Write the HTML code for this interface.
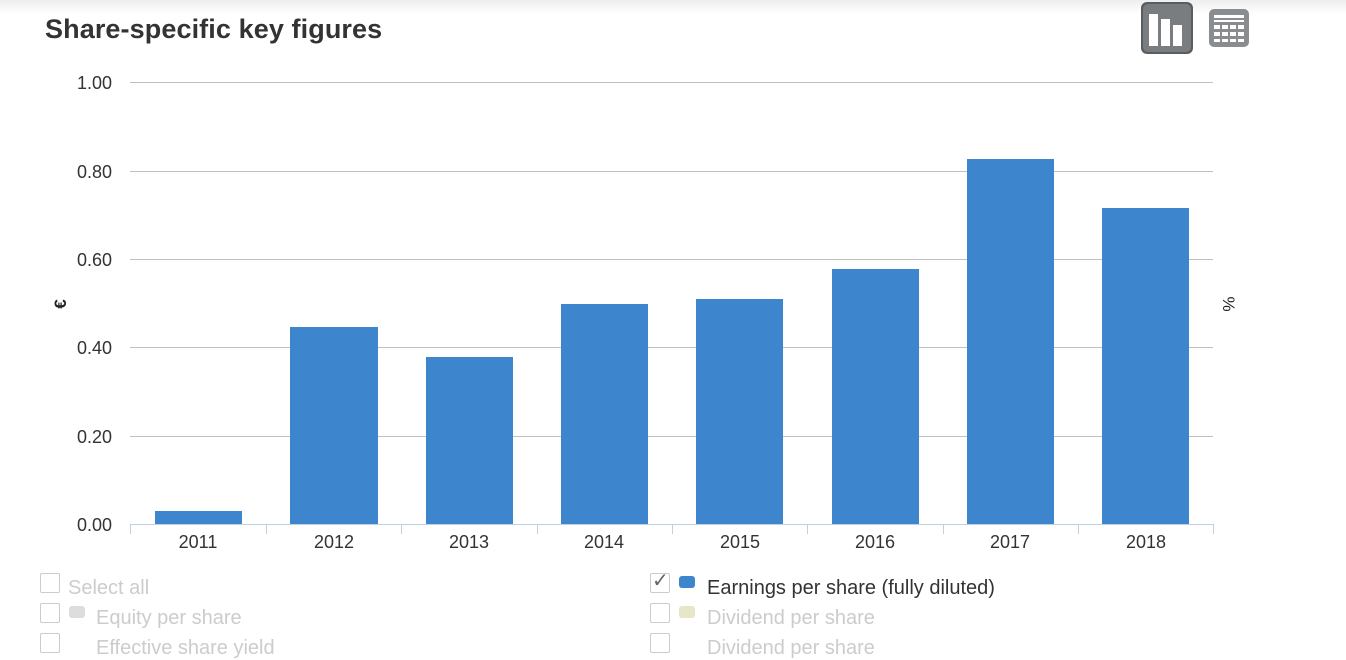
<!DOCTYPE html>
<html><head><style>
body{margin:0;width:1346px;height:644px;overflow:hidden;background:#fff;font-family:"Liberation Sans",sans-serif;position:relative}
.top{position:absolute;left:0;top:0;width:1346px;height:14px;background:linear-gradient(#eee,#fff)}
h1{position:absolute;left:45px;top:14px;margin:0;font-size:27px;font-weight:bold;color:#333;letter-spacing:0.1px}
.lg{position:absolute;font-size:20px;color:#ccc}
.cb{position:absolute;width:18px;height:18px;border:1px solid #ccc;border-radius:2px;background:#fff}
.sw{position:absolute;width:16px;height:12px;border-radius:3px}
</style></head><body>
<div class="top"></div>
<h1>Share-specific key figures</h1>
<svg style="position:absolute;left:1141px;top:2px" width="110" height="54">
<rect x="0" y="0" width="52" height="52" rx="6" fill="#5a5d60"/>
<rect x="2" y="2" width="48" height="48" rx="5" fill="#7a7d80"/>
<rect x="8" y="12" width="9" height="32" fill="#fff"/><rect x="20" y="17" width="9" height="27" fill="#fff"/><rect x="32" y="23" width="9" height="21" fill="#fff"/>
<rect x="68" y="7" width="40" height="38" rx="5" fill="#8a8d90"/>
<g fill="#fff"><rect x="73" y="13" width="30" height="3"/><rect x="73" y="18" width="30" height="2"/>
<rect x="73" y="23" width="6" height="4"/><rect x="81" y="23" width="6" height="4"/><rect x="89" y="23" width="6" height="4"/><rect x="97" y="23" width="6" height="4"/>
<rect x="73" y="30" width="6" height="4"/><rect x="81" y="30" width="6" height="4"/><rect x="89" y="30" width="6" height="4"/><rect x="97" y="30" width="6" height="4"/>
<rect x="73" y="37" width="6" height="3"/><rect x="81" y="37" width="6" height="3"/><rect x="89" y="37" width="6" height="3"/><rect x="97" y="37" width="6" height="3"/></g>
</svg>
<svg style="position:absolute;left:0;top:0" width="1346" height="560" font-family="Liberation Sans" font-size="18" fill="#333">
<g stroke="#c0c0c0" stroke-width="1">
<line x1="130" x2="1213" y1="82.5" y2="82.5"/><line x1="130" x2="1213" y1="171.5" y2="171.5"/><line x1="130" x2="1213" y1="259.5" y2="259.5"/><line x1="130" x2="1213" y1="347.5" y2="347.5"/><line x1="130" x2="1213" y1="436.5" y2="436.5"/>
</g>
<line x1="130" x2="1213" y1="524.5" y2="524.5" stroke="#c0d0e0"/>
<g stroke="#c0d0e0"><line x1="130.5" x2="130.5" y1="524" y2="534"/><line x1="266.5" x2="266.5" y1="524" y2="534"/><line x1="401.5" x2="401.5" y1="524" y2="534"/><line x1="537.5" x2="537.5" y1="524" y2="534"/><line x1="672.5" x2="672.5" y1="524" y2="534"/><line x1="807.5" x2="807.5" y1="524" y2="534"/><line x1="943.5" x2="943.5" y1="524" y2="534"/><line x1="1078.5" x2="1078.5" y1="524" y2="534"/><line x1="1213.5" x2="1213.5" y1="524" y2="534"/></g>
<g text-anchor="end"><text x="112" y="89">1.00</text><text x="112" y="178">0.80</text><text x="112" y="266">0.60</text><text x="112" y="354">0.40</text><text x="112" y="443">0.20</text><text x="112" y="531">0.00</text></g>
<text transform="translate(66,304) rotate(-90)" text-anchor="middle" font-size="17" font-weight="bold" fill="#222">€</text>
<text transform="translate(1223,304) rotate(90)" text-anchor="middle" font-size="17" fill="#222">%</text>
<g fill="#3d85cc">
<rect x="155" y="511" width="87" height="13"/><rect x="290" y="327" width="88" height="197"/><rect x="426" y="357" width="87" height="167"/><rect x="561" y="304" width="87" height="220"/><rect x="696" y="299" width="87" height="225"/><rect x="832" y="269" width="87" height="255"/><rect x="967" y="159" width="87" height="365"/><rect x="1102" y="208" width="87" height="316"/>
</g>
<g text-anchor="middle"><text x="198" y="548">2011</text><text x="334" y="548">2012</text><text x="469" y="548">2013</text><text x="604" y="548">2014</text><text x="740" y="548">2015</text><text x="875" y="548">2016</text><text x="1010" y="548">2017</text><text x="1146" y="548">2018</text></g>
</svg>
<div class="cb" style="left:40px;top:573px"></div><div class="lg" style="left:68px;top:577px">Select all</div>
<div class="cb" style="left:40px;top:603px"></div><div class="sw" style="left:69px;top:606px;background:#ddd"></div><div class="lg" style="left:96px;top:607px">Equity per share</div>
<div class="cb" style="left:40px;top:633px"></div><div class="lg" style="left:96px;top:637px">Effective share yield</div>
<div class="cb" style="left:650px;top:573px"></div><div style="position:absolute;left:652px;top:568px;font-size:20px;color:#666">✓</div><div class="sw" style="left:679px;top:576px;background:#3d85cc"></div><div class="lg" style="left:707px;top:577px;color:#333">Earnings per share (fully diluted)</div>
<div class="cb" style="left:650px;top:603px"></div><div class="sw" style="left:679px;top:606px;background:#e6e6c8"></div><div class="lg" style="left:707px;top:607px">Dividend per share</div>
<div class="cb" style="left:650px;top:633px"></div><div class="lg" style="left:707px;top:637px">Dividend per share</div>
</body></html>
